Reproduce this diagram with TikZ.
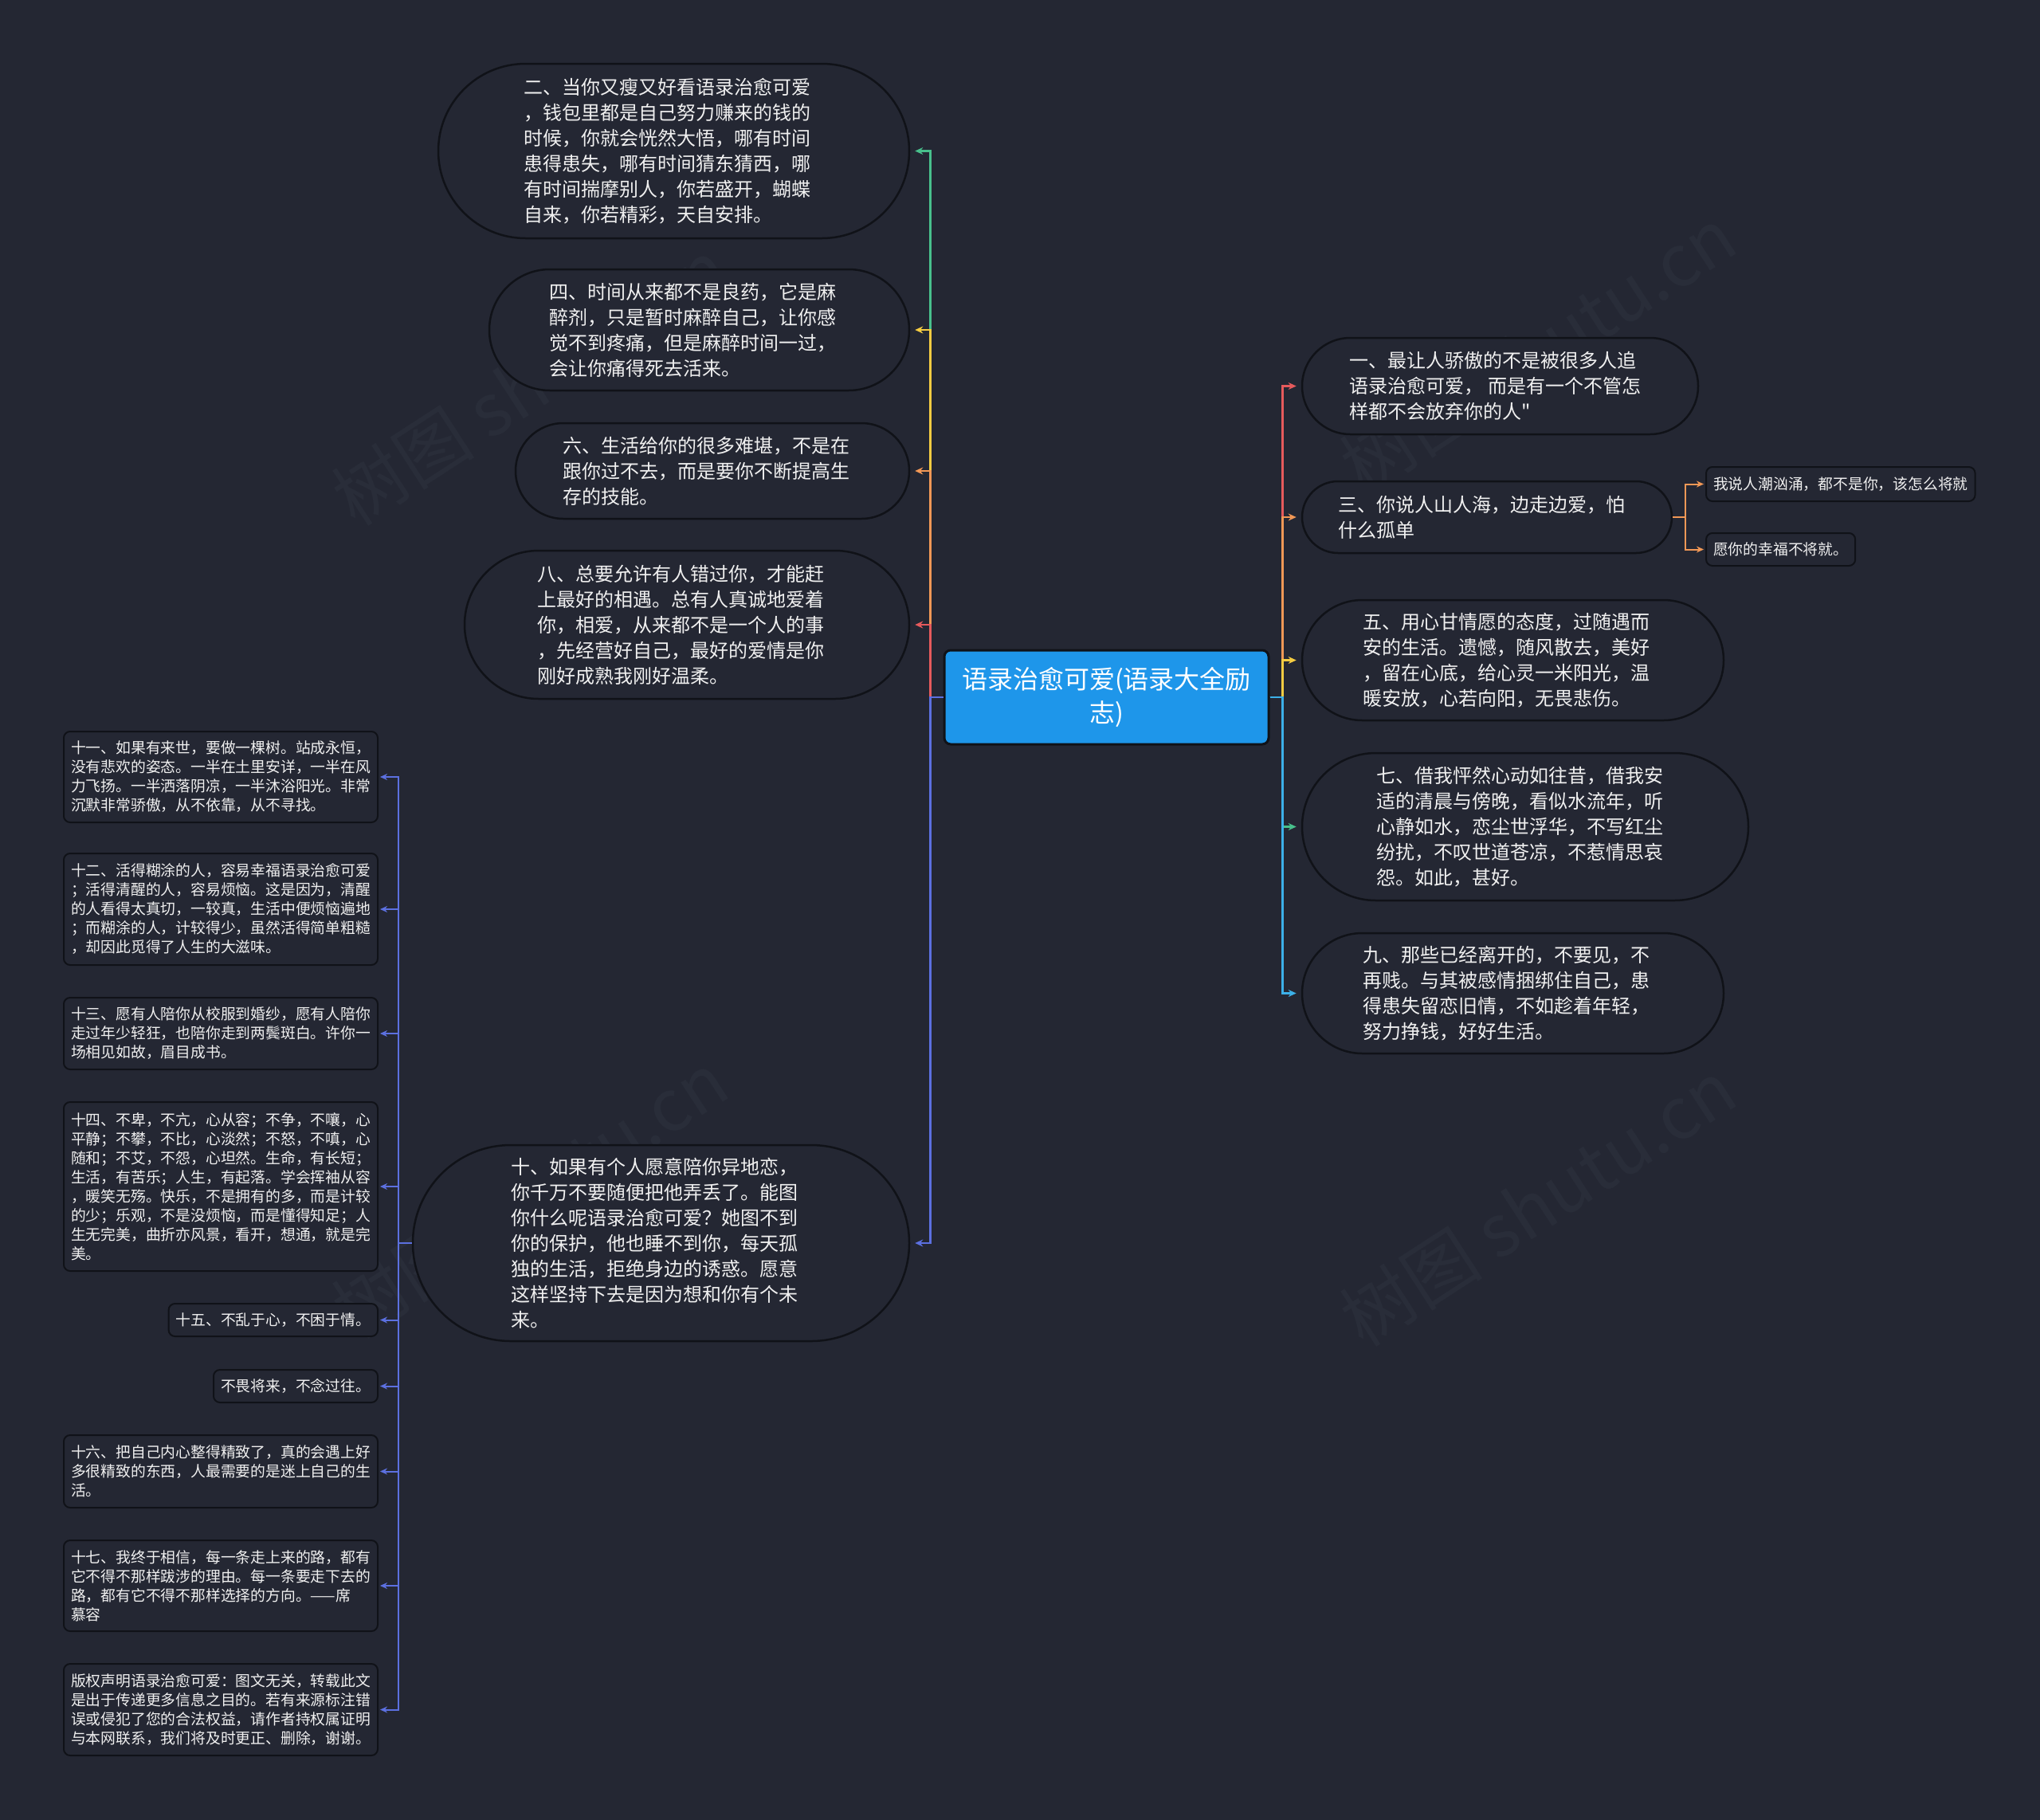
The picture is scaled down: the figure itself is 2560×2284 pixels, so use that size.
\documentclass[tikz,border=0pt]{standalone}
\usepackage{fontspec}
\setmainfont{Noto Sans CJK SC}[Ligatures=TeXOff]
\usetikzlibrary{shapes.misc,arrows.meta}
\definecolor{bg}{RGB}{36,39,51}
\definecolor{edge}{RGB}{16,18,24}
\definecolor{txt}{RGB}{240,240,240}
\definecolor{rootfill}{RGB}{30,150,234}
\definecolor{cgreen}{RGB}{72,192,140}
\definecolor{cyellow}{RGB}{245,204,66}
\definecolor{corange}{RGB}{242,152,86}
\definecolor{cred}{RGB}{230,90,92}
\definecolor{cblue}{RGB}{92,112,224}
\definecolor{clblue}{RGB}{60,176,232}
\definecolor{wmc}{RGB}{41,45,57}
\tikzset{
  big/.style={rounded rectangle, draw=edge, line width=2.5pt, fill=bg,
    inner sep=0pt},
  bigtext/.style={text=txt, align=left, inner sep=0pt,
    font=\fontsize{24pt}{32pt}\selectfont},
  sbox/.style={draw=edge, line width=2pt, rounded corners=8pt, fill=bg, text=txt,
    align=left, inner xsep=9pt, inner ysep=0pt,
    font=\fontsize{18.8pt}{24pt}\selectfont},
  rootbox/.style={draw=edge, line width=3pt, rounded corners=8pt, fill=rootfill, text=white,
    align=center, inner sep=0pt, minimum width=407pt, minimum height=118pt,
    font=\fontsize{32pt}{42pt}\selectfont},
  con/.style={line width=2.5pt, -{Stealth[length=10pt,width=9pt]}, shorten >=6pt},
  scon/.style={line width=2pt, -{Stealth[length=9pt,width=8pt]}, shorten >=2pt},
  wm/.style={text=wmc, font=\fontsize{90pt}{100pt}\selectfont, rotate=33}
}
\begin{document}
\begin{tikzpicture}[x=1pt,y=-1pt]
\fill[bg] (0,0) rectangle (2560,2284);
\useasboundingbox (0,0) rectangle (2560,2284);

% watermarks
\node[wm] (wm1) at (665,480) {树图 shutu.cn};
\node[wm] (wm2) at (1930,440) {树图 shutu.cn};
\node[wm] (wm3) at (665,1500) {树图 shutu.cn};
\node[wm] (wm4) at (1930,1510) {树图 shutu.cn};

% root
\node[rootbox] (r) at (1388.5,875) {语录治愈可爱(语录大全励\\志)};

% left big nodes
\node[big, minimum width=591pt, minimum height=219pt] (n2) at (845.5,189.5) {};
\node[bigtext] (t2) at ([xshift=-8pt]n2.center) {二、当你又瘦又好看语录治愈可爱\\，钱包里都是自己努力赚来的钱的\\时候，你就会恍然大悟，哪有时间\\患得患失，哪有时间猜东猜西，哪\\有时间揣摩别人，你若盛开，蝴蝶\\自来，你若精彩，天自安排。};
\node[big, minimum width=527pt, minimum height=152pt] (n4) at (877.5,414) {};
\node[bigtext] (t4) at ([xshift=-8pt]n4.center) {四、时间从来都不是良药，它是麻\\醉剂，只是暂时麻醉自己，让你感\\觉不到疼痛，但是麻醉时间一过，\\会让你痛得死去活来。};
\node[big, minimum width=494pt, minimum height=120pt] (n6) at (894,591) {};
\node[bigtext] (t6) at ([xshift=-8pt]n6.center) {六、生活给你的很多难堪，不是在\\跟你过不去，而是要你不断提高生\\存的技能。};
\node[big, minimum width=558pt, minimum height=186pt] (n8) at (862,784) {};
\node[bigtext] (t8) at ([xshift=-8pt]n8.center) {八、总要允许有人错过你，才能赶\\上最好的相遇。总有人真诚地爱着\\你，相爱，从来都不是一个人的事\\，先经营好自己，最好的爱情是你\\刚好成熟我刚好温柔。};
\node[big, minimum width=623pt, minimum height=246pt] (n10) at (829.5,1560) {};
\node[bigtext] (t10) at ([xshift=-8pt]n10.center) {十、如果有个人愿意陪你异地恋，\\你千万不要随便把他弄丢了。能图\\你什么呢语录治愈可爱？她图不到\\你的保护，他也睡不到你，每天孤\\独的生活，拒绝身边的诱惑。愿意\\这样坚持下去是因为想和你有个未\\来。};

% right big nodes
\node[big, minimum width=497pt, minimum height=121pt] (n1) at (1882.5,484.5) {};
\node[bigtext] (t1) at ([xshift=-6pt]n1.center) {一、最让人骄傲的不是被很多人追\\语录治愈可爱， 而是有一个不管怎\\样都不会放弃你的人"};
\node[big, minimum width=464pt, minimum height=90pt] (n3) at (1866,649) {};
\node[bigtext] (t3) at ([xshift=-7pt]n3.center) {三、你说人山人海，边走边爱，怕\\什么孤单};
\node[big, minimum width=529pt, minimum height=151pt] (n5) at (1898.5,828.5) {};
\node[bigtext] (t5) at ([xshift=-8pt]n5.center) {五、用心甘情愿的态度，过随遇而\\安的生活。遗憾，随风散去，美好\\，留在心底，给心灵一米阳光，温\\暖安放，心若向阳，无畏悲伤。};
\node[big, minimum width=560pt, minimum height=185pt] (n7) at (1914,1037.5) {};
\node[bigtext] (t7) at ([xshift=-7pt]n7.center) {七、借我怦然心动如往昔，借我安\\适的清晨与傍晚，看似水流年，听\\心静如水，恋尘世浮华，不写红尘\\纷扰，不叹世道苍凉，不惹情思哀\\怨。如此，甚好。};
\node[big, minimum width=529pt, minimum height=151pt] (n9) at (1898.5,1246.5) {};
\node[bigtext] (t9) at ([xshift=-8pt]n9.center) {九、那些已经离开的，不要见，不\\再贱。与其被感情捆绑住自己，患\\得患失留恋旧情，不如趁着年轻，\\努力挣钱，好好生活。};

% children of 三
\node[sbox, anchor=west, minimum height=43pt] (n3a) at (2140,607.5) {我说人潮汹涌，都不是你，该怎么将就};
\node[sbox, anchor=west, minimum height=41pt] (n3b) at (2140,689.5) {愿你的幸福不将就。};

% children of 十
\node[sbox, anchor=east, minimum height=114pt] (n11) at (475,975) {十一、如果有来世，要做一棵树。站成永恒，\\没有悲欢的姿态。一半在土里安详，一半在风\\力飞扬。一半洒落阴凉，一半沐浴阳光。非常\\沉默非常骄傲，从不依靠，从不寻找。};
\node[sbox, anchor=east, minimum height=140pt] (n12) at (475,1141) {十二、活得糊涂的人，容易幸福语录治愈可爱\\；活得清醒的人，容易烦恼。这是因为，清醒\\的人看得太真切，一较真，生活中便烦恼遍地\\；而糊涂的人，计较得少，虽然活得简单粗糙\\，却因此觅得了人生的大滋味。};
\node[sbox, anchor=east, minimum height=90pt] (n13) at (475,1297) {十三、愿有人陪你从校服到婚纱，愿有人陪你\\走过年少轻狂，也陪你走到两鬓斑白。许你一\\场相见如故，眉目成书。};
\node[sbox, anchor=east, minimum height=212pt] (n14) at (475,1489) {十四、不卑，不亢，心从容；不争，不嚷，心\\平静；不攀，不比，心淡然；不怒，不嗔，心\\随和；不艾，不怨，心坦然。生命，有长短；\\生活，有苦乐；人生，有起落。学会挥袖从容\\，暖笑无殇。快乐，不是拥有的多，而是计较\\的少；乐观，不是没烦恼，而是懂得知足；人\\生无完美，曲折亦风景，看开，想通，就是完\\美。};
\node[sbox, anchor=east, minimum height=41pt] (n15) at (475,1656.5) {十五、不乱于心，不困于情。};
\node[sbox, anchor=east, minimum height=41pt] (nbw) at (475,1739.5) {不畏将来，不念过往。};
\node[sbox, anchor=east, minimum height=91pt] (n16) at (475,1846.5) {十六、把自己内心整得精致了，真的会遇上好\\多很精致的东西，人最需要的是迷上自己的生\\活。};
\node[sbox, anchor=east, minimum height=114pt] (n17) at (475,1990) {十七、我终于相信，每一条走上来的路，都有\\它不得不那样跋涉的理由。每一条要走下去的\\路，都有它不得不那样选择的方向。——席\\慕容};
\node[sbox, anchor=east, minimum height=115pt] (nbq) at (475,2145.5) {版权声明语录治愈可爱：图文无关，转载此文\\是出于传递更多信息之目的。若有来源标注错\\误或侵犯了您的合法权益，请作者持权属证明\\与本网联系，我们将及时更正、删除，谢谢。};

% left connectors
\draw[con, cgreen] (r.west) -- ++(-16,0) |- (n2.east);
\draw[con, cyellow] (r.west) -- ++(-16,0) |- (n4.east);
\draw[con, corange] (r.west) -- ++(-16,0) |- (n6.east);
\draw[con, cred] (r.west) -- ++(-16,0) |- (n8.east);
\draw[con, cblue] (r.west) -- ++(-16,0) |- (n10.east);

% right connectors
\draw[con, cred] (r.east) -- ++(16,0) |- (n1.west);
\draw[con, corange] (r.east) -- ++(16,0) |- (n3.west);
\draw[con, cyellow] (r.east) -- ++(16,0) |- (n5.west);
\draw[con, cgreen] (r.east) -- ++(16,0) |- (n7.west);
\draw[con, clblue] (r.east) -- ++(16,0) |- (n9.west);

% 三 children
\draw[scon, corange] (n3.east) -- ++(16,0) |- (n3a.west);
\draw[scon, corange] (n3.east) -- ++(16,0) |- (n3b.west);

% 十 children
\foreach \c in {n11,n12,n13,n14,n15,nbw,n16,n17,nbq}
  \draw[scon, cblue] (n10.west) -- ++(-17,0) |- (\c.east);
\end{tikzpicture}
\end{document}
